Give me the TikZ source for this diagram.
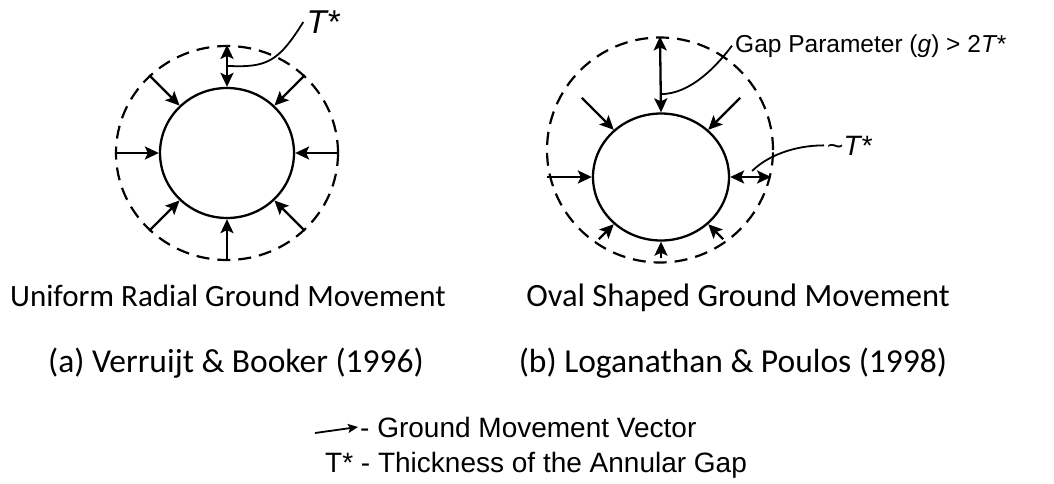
\documentclass[tikz,border=0pt]{standalone}
\usepackage{fontspec}
\setmainfont{Liberation Sans}
\newfontfamily\capfont{Carlito}
\usetikzlibrary{arrows.meta,shapes.geometric,calc}

\begin{document}
\begin{tikzpicture}[x=1pt, y=-1pt,
    tunnel/.style={draw, ellipse, line width=2.3pt, inner sep=0pt},
    annulus/.style={draw, ellipse, line width=2.2pt, inner sep=0pt, dash pattern=on 13pt off 8pt},
    move/.style={-{Stealth[length=14pt, width=13pt, inset=3pt]}, line width=2.3pt},
    both/.style={{Stealth[length=14pt, width=13pt, inset=3pt]}-{Stealth[length=14pt, width=13pt, inset=3pt]}, line width=2.3pt},
    leader/.style={line width=1.8pt},
    caption/.style={font=\capfont\fontsize{31}{36}\selectfont, inner sep=0pt, anchor=base},
    refline/.style={font=\capfont\fontsize{33.5}{38}\selectfont, inner sep=0pt, anchor=base}
]
    \useasboundingbox (0,0) rectangle (1054,483);

    % (a) uniform radial
    \node[annulus, minimum width=222pt, minimum height=214pt] (outerA) at (227,153) {};
    \node[tunnel, minimum width=134pt, minimum height=130pt] (innerA) at (227,153) {};
    \foreach \a in {0,45,135,180,225,270,315}
        \draw[move] (outerA.\a) -- (innerA.\a);
    \draw[both] (outerA.90) -- coordinate[pos=0.5] (gapA) (innerA.90);
    \node[inner sep=3pt, font=\fontsize{33}{38}\selectfont\itshape] (tstarA) at (323,22) {T*};
    \draw[leader] (gapA) .. controls +(40,2) and +(-25,40) .. (tstarA.west);

    % (b) oval shaped
    \node[annulus, minimum width=226pt, minimum height=225pt] (outerB) at (660,150) {};
    \node[tunnel, minimum width=136pt, minimum height=127pt] (innerB) at (661,177) {};
    \foreach \a/\r in {45/112,135/112,180/114,225/88,270/81,315/88}
        \draw[move] ($(innerB.center)+(\a:\r pt)$) -- (innerB.\a);
    \draw[both] (outerB.90) -- coordinate[pos=0.76] (gapB) (innerB.90);
    \draw[both, shorten >=3pt] (innerB.east) -- coordinate[pos=0.5] (thkB) (innerB.east -| outerB.east);

    \node[inner sep=3pt, anchor=base west, font=\fontsize{24.5}{29}\selectfont] (gapname) at (732,52)
        {Gap Parameter (\textit{g}) > 2\textit{T*}};
    \node[inner sep=3pt, anchor=base west, font=\fontsize{28}{32}\selectfont] (tildeB) at (824,155)
        {\textasciitilde\textit{T*}};
    \draw[leader] (gapB) .. controls +(30,0) and +(-15,20) .. (gapname.west);
    \draw[leader] ([yshift=6pt]thkB) .. controls +(15,-15) and +(-30,0) .. (tildeB.west);

    \node[caption] (capA) at (228,306) {Uniform Radial Ground Movement};
    \node[caption, font=\capfont\fontsize{32.5}{38}\selectfont] (capB) at (738,306) {Oval Shaped Ground Movement};
    \node[refline] (refA) at (236,372) {(a) Verruijt \& Booker (1996)};
    \node[refline] (refB) at (733,372) {(b) Loganathan \& Poulos (1998)};

    % legend
    \coordinate (legtail) at (315,433);
    \node[inner sep=2pt, anchor=base west, font=\fontsize{28}{32}\selectfont] (legvec) at (358,437) {- Ground Movement Vector};
    \node[inner sep=2pt, anchor=base west, font=\fontsize{28}{32}\selectfont] (legthk) at (323,472) {T* - Thickness of the Annular Gap};
    \draw[-{Stealth[length=10pt, width=9pt, inset=2pt]}, line width=1.8pt] (legtail) -- (legvec.west);
\end{tikzpicture}
\end{document}
